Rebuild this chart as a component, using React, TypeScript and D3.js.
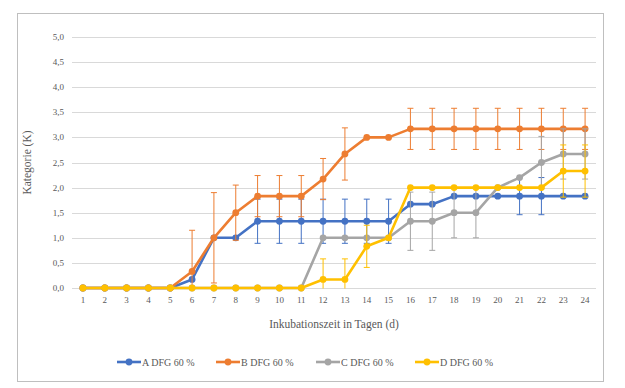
import React, { useEffect, useRef } from 'react';
import * as d3 from 'd3';

const days = d3.range(1, 25);
const yTicks = [0, 0.5, 1, 1.5, 2, 2.5, 3, 3.5, 4, 4.5, 5];

const seriesNames = ['A DFG 60 %', 'B DFG 60 %', 'C DFG 60 %', 'D DFG 60 %'];
const seriesColors = ['#4472C4', '#ED7D31', '#A5A5A5', '#FFC000'];

const valuesA = [0, 0, 0, 0, 0, 0.17, 1, 1, 1.33, 1.33, 1.33, 1.33, 1.33, 1.33, 1.33, 1.67, 1.67, 1.83, 1.83, 1.83, 1.83, 1.83, 1.83, 1.83];
const valuesB = [0, 0, 0, 0, 0, 0.33, 1, 1.5, 1.83, 1.83, 1.83, 2.17, 2.67, 3, 3, 3.17, 3.17, 3.17, 3.17, 3.17, 3.17, 3.17, 3.17, 3.17];
const valuesC = [0, 0, 0, 0, 0, 0, 0, 0, 0, 0, 0, 1, 1, 1, 1, 1.33, 1.33, 1.5, 1.5, 2, 2.2, 2.5, 2.67, 2.67];
const valuesD = [0, 0, 0, 0, 0, 0, 0, 0, 0, 0, 0, 0.17, 0.17, 0.83, 1, 2, 2, 2, 2, 2, 2, 2, 2.33, 2.33];

// Fehlerbalken (+/-)
const errorsA = [0, 0, 0, 0, 0, 0, 0, 0, 0.44, 0.44, 0.44, 0.44, 0.44, 0.44, 0.44, 0, 0, 0, 0, 0, 0.37, 0.37, 0, 0];
const errorsB = [0, 0, 0, 0, 0, 0.82, 0.9, 0.55, 0.41, 0.41, 0.41, 0.41, 0.52, 0, 0, 0.41, 0.41, 0.41, 0.41, 0.41, 0.41, 0.41, 0.41, 0.41];
const errorsC = [0, 0, 0, 0, 0, 0, 0, 0, 0, 0, 0, 0, 0, 0, 0, 0.58, 0.58, 0.5, 0.5, 0, 0, 0.52, 0.5, 0.5];
const errorsD = [0, 0, 0, 0, 0, 0, 0, 0, 0, 0, 0, 0.41, 0.41, 0.42, 0, 0, 0, 0, 0, 0, 0, 0, 0.52, 0.52];

const allValues = [valuesA, valuesB, valuesC, valuesD];
const allErrors = [errorsA, errorsB, errorsC, errorsD];

const App: React.FC = () => {
  const svgRef = useRef<SVGSVGElement>(null);

  useEffect(() => {
    if (!svgRef.current) { return; }
    const svg = d3.select(svgRef.current);
    svg.selectAll('*').remove();

    const textColor = '#595959';

    // Rahmen
    svg.append('rect')
      .attr('x', 17.5).attr('y', 13.5)
      .attr('width', 586).attr('height', 368)
      .attr('fill', '#fff')
      .attr('stroke', '#BFBFBF')
      .attr('stroke-width', 1);

    const x = d3.scaleBand<number>().domain(days).range([72, 596]);
    const y = d3.scaleLinear().domain([0, 5]).range([288, 37]);
    const cx = (d: number) => (x(d) || 0) + x.bandwidth() / 2;

    // Gitterlinien
    svg.append('g')
      .selectAll('line')
      .data(yTicks)
      .enter()
      .append('line')
      .attr('x1', 72).attr('x2', 596)
      .attr('y1', d => Math.round(y(d)) + 0.5)
      .attr('y2', d => Math.round(y(d)) + 0.5)
      .attr('stroke', '#D9D9D9')
      .attr('stroke-width', 1);

    // Y-Achse Beschriftung
    svg.append('g')
      .selectAll('text')
      .data(yTicks)
      .enter()
      .append('text')
      .attr('class', 'lbl')
      .attr('x', 64)
      .attr('y', d => y(d) + 3)
      .attr('text-anchor', 'end')
      .attr('font-size', 9)
      .attr('fill', textColor)
      .text(d => d.toFixed(1).replace('.', ','));

    // X-Achse Beschriftung
    svg.append('g')
      .selectAll('text')
      .data(days)
      .enter()
      .append('text')
      .attr('class', 'lbl')
      .attr('x', d => cx(d))
      .attr('y', 303)
      .attr('text-anchor', 'middle')
      .attr('font-size', 9)
      .attr('fill', textColor)
      .text(d => String(d));

    // Achsentitel
    svg.append('text')
      .attr('class', 'lbl')
      .attr('x', 334).attr('y', 328)
      .attr('text-anchor', 'middle')
      .attr('font-size', 11.5)
      .attr('fill', textColor)
      .text('Inkubationszeit in Tagen (d)');

    svg.append('text')
      .attr('class', 'lbl')
      .attr('transform', 'translate(31, 162.5) rotate(-90)')
      .attr('text-anchor', 'middle')
      .attr('font-size', 11.5)
      .attr('fill', textColor)
      .text('Kategorie (K)');

    const defs = svg.append('defs');
    defs.append('clipPath').attr('id', 'plot-clip')
      .append('rect')
      .attr('x', 60).attr('y', 20)
      .attr('width', 550).attr('height', 268.5);

    const line = d3.line<number>()
      .x((_, i) => cx(days[i]))
      .y(d => y(d));

    allValues.forEach((vals, s) => {
      const color = seriesColors[s];
      const errs = allErrors[s];
      const g = svg.append('g');

      // Fehlerbalken
      const eb = g.append('g').attr('clip-path', 'url(#plot-clip)');
      days.forEach((d, i) => {
        const e = errs[i];
        if (!e) { return; }
        const px = cx(d);
        const top = y(vals[i] + e);
        const bot = y(vals[i] - e);
        eb.append('line')
          .attr('x1', px).attr('x2', px)
          .attr('y1', top).attr('y2', bot)
          .attr('stroke', color).attr('stroke-width', 1);
        [top, bot].forEach(yy => {
          eb.append('line')
            .attr('x1', px - 3).attr('x2', px + 3)
            .attr('y1', yy).attr('y2', yy)
            .attr('stroke', color).attr('stroke-width', 1);
        });
      });

      g.append('path')
        .datum(vals)
        .attr('d', line)
        .attr('fill', 'none')
        .attr('stroke', color)
        .attr('stroke-width', 2.6)
        .attr('stroke-linejoin', 'round');

      g.selectAll('circle')
        .data(vals)
        .enter()
        .append('circle')
        .attr('cx', (_, i) => cx(days[i]))
        .attr('cy', d => y(d))
        .attr('r', 3.4)
        .attr('fill', color);
    });

    // Legende
    const legendX = [117, 216, 316, 415];
    seriesNames.forEach((name, s) => {
      const lg = svg.append('g').attr('transform', `translate(${legendX[s]}, 362)`);
      lg.append('line')
        .attr('x1', 0).attr('x2', 24)
        .attr('y1', 0).attr('y2', 0)
        .attr('stroke', seriesColors[s])
        .attr('stroke-width', 2.6);
      lg.append('circle')
        .attr('cx', 12).attr('cy', 0).attr('r', 3.4)
        .attr('fill', seriesColors[s]);
      lg.append('text')
        .attr('class', 'lbl')
        .attr('x', 25).attr('y', 3.5)
        .attr('font-size', 10)
        .attr('fill', textColor)
        .text(name);
    });
  }, []);

  return (
    <div style={{ position: 'absolute', left: 0, top: 0 }}>
      <style>{`.lbl { font-family: 'Times New Roman', 'Liberation Serif', serif; }`}</style>
      <svg ref={svgRef} width={625} height={388} style={{ display: 'block' }} />
    </div>
  );
};

export default App;
